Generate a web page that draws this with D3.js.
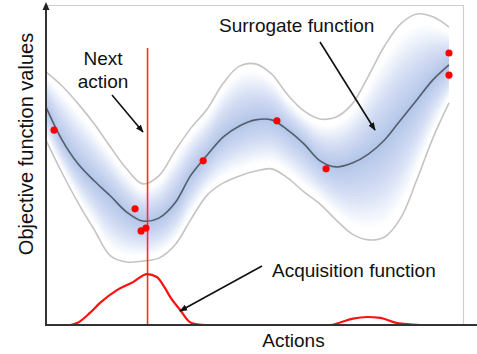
<!DOCTYPE html>
<html><head><meta charset="utf-8">
<script src="https://cdn.jsdelivr.net/npm/d3@7"></script>
<style>html,body{margin:0;padding:0;background:#fff;} svg{display:block;font-family:"Liberation Sans",Arial,sans-serif;}</style>
</head><body><svg id="c" width="477" height="354"></svg>
<script>
// ---- data (x: action 0..100, y: objective value 0..100) ----
const gridX = [0,4,8,12,16,20,24,28,32,36,40,44,48,52,56,60,64,68,72,76,80,84,88,92,96,100];
const meanY = [68.1,57.8,50.3,45.0,40.3,35.3,32.5,33.4,38.1,46.9,53.1,58.8,62.2,64.1,64.1,60.9,56.6,51.3,49.4,50.6,53.4,57.8,64.1,70.3,76.6,81.3];
const upperY = [79.1,74.7,69.1,62.8,55.6,48.8,44.1,46.6,54.4,61.6,67.5,75.6,80.9,81.6,78.4,71.9,66.9,64.4,65.0,69.1,77.8,87.2,94.1,97.2,96.3,93.1];
const lowerY = [57.8,47.5,38.1,29.7,21.6,19.7,20.0,20.9,25.0,33.1,40.6,44.4,46.6,48.1,48.8,45.9,41.6,37.8,32.8,28.4,26.6,27.5,33.4,45.3,58.4,69.4];
const obsX = [2.0,22.1,23.6,24.8,39.0,57.3,69.5,100,100];
const obsY = [60.9,36.3,29.4,30.3,51.3,63.8,48.8,85.0,78.1];
const acqX = [0,6.0,7.7,10.9,13.4,17.6,21.6,25.1,27.5,29.5,30.8,33.3,35.7,37.5,39.5,70.5,73.0,76.2,79.7,82.9,87.1,90.3,92.8,100];
const acqY = [0,0,0.6,3.8,6.9,10.9,13.4,15.9,15.0,11.6,8.8,4.7,0.9,0.2,0,0,0.8,2.0,2.5,2.2,0.6,0.2,0,0];
const nextActionX = 25.2;
const nextActionTop = 86.6;
const labels = {y:"Objective function values", x:"Actions", next:["Next","action"], surrogate:"Surrogate function", acq:"Acquisition function"};

// ---- layout ----
const svg = d3.select("#c");
const x = d3.scaleLinear().domain([0,100]).range([46,449]);
const y = d3.scaleLinear().domain([0,100]).range([325,5]);
const curve = d3.curveCatmullRom.alpha(0.5);

const defs = svg.append("defs");
defs.append("marker").attr("id","ah").attr("viewBox","0 0 10 10").attr("refX",9).attr("refY",5)
  .attr("markerWidth",5).attr("markerHeight",5).attr("orient","auto")
  .append("path").attr("d","M0,1 L10,5 L0,9 z").attr("fill","#111");

// frame (light top/right border)
svg.append("path").attr("d","M46,5.5 H463.5 V325").attr("fill","none").attr("stroke","#cfcfcf").attr("stroke-width",1.2);

// nested gradient band (fades to white before the bounds)
const N = 22;
const g = svg.append("g");
for (let k = N; k >= 1; k--) {
  const t = 0.85 * k / N;
  const area = d3.area()
    .x(i => x(gridX[i]))
    .y0(i => y(meanY[i] - t * (meanY[i] - lowerY[i])))
    .y1(i => y(meanY[i] + t * (upperY[i] - meanY[i])))
    .curve(curve);
  g.append("path").attr("d", area(d3.range(gridX.length)))
    .attr("fill","rgb(95,140,205)").attr("fill-opacity",0.026);
}

const line = (ys) => d3.line().x(i => x(gridX[i])).y(i => y(ys[i])).curve(curve)(d3.range(gridX.length));
svg.append("path").attr("d", line(upperY)).attr("fill","none").attr("stroke","#c4c4c4").attr("stroke-width",1.6);
svg.append("path").attr("d", line(lowerY)).attr("fill","none").attr("stroke","#c4c4c4").attr("stroke-width",1.6);
svg.append("path").attr("d", line(meanY)).attr("fill","none").attr("stroke","#555d69").attr("stroke-width",1.6);

// next action vertical line
svg.append("line").attr("x1",x(nextActionX)).attr("x2",x(nextActionX)).attr("y1",y(nextActionTop)).attr("y2",y(0))
  .attr("stroke","#ff2a2a").attr("stroke-width",1.6);

// acquisition function
svg.append("path").attr("d", d3.line().x((d,i)=>x(acqX[i])).y((d,i)=>y(acqY[i])).curve(d3.curveMonotoneX)(acqX))
  .attr("fill","none").attr("stroke","#ff1010").attr("stroke-width",2.2);

// observations
svg.selectAll("circle.obs").data(obsX).join("circle").attr("class","obs")
  .attr("cx",(d)=>x(d)).attr("cy",(d,i)=>y(obsY[i])).attr("r",3.6).attr("fill","#ff0000");

// axes
svg.append("line").attr("x1",46).attr("x2",477).attr("y1",325).attr("y2",325).attr("stroke","#333").attr("stroke-width",2);
svg.append("line").attr("x1",46).attr("x2",46).attr("y1",326).attr("y2",8).attr("stroke","#333").attr("stroke-width",2);
svg.append("path").attr("d","M46,2 L49.5,10 L42.5,10 z").attr("fill","#222");

// text
const txt = (s,xx,yy,anchor) => svg.append("text").attr("x",xx).attr("y",yy).attr("text-anchor",anchor||"start")
  .attr("font-size",19).attr("fill","#111").text(s);
txt(labels.next[0],103,65,"middle");
txt(labels.next[1],103,88,"middle");
txt(labels.surrogate,219,32);
txt(labels.acq,272,277);
txt(labels.x,293.5,347,"middle");
svg.append("text").attr("transform","translate(33,144) rotate(-90)").attr("text-anchor","middle")
  .attr("font-size",20).attr("fill","#111").text(labels.y);

// arrows
const arrow = (x1,y1,x2,y2) => svg.append("line").attr("x1",x1).attr("y1",y1).attr("x2",x2).attr("y2",y2)
  .attr("stroke","#111").attr("stroke-width",1.6).attr("marker-end","url(#ah)");
arrow(112,95,143,132);
arrow(320,42,375,130);
arrow(262,266,180,311);
</script></body></html>
